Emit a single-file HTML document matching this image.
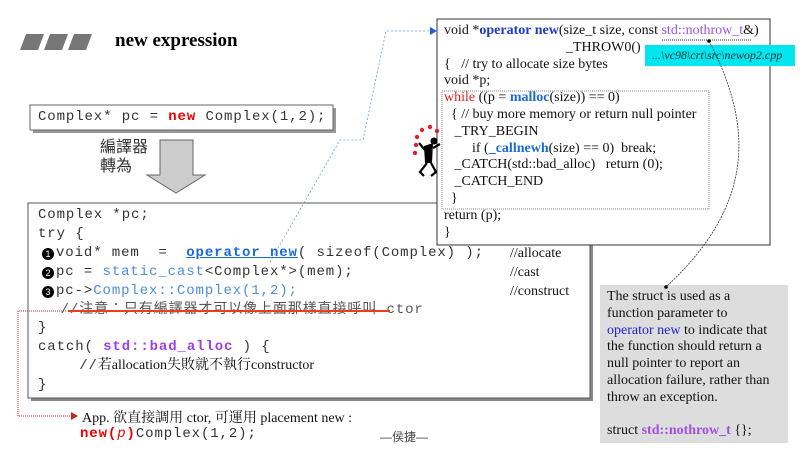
<!DOCTYPE html>
<html><head><meta charset="utf-8"><style>
body{margin:0;width:811px;height:470px;background:#fff;position:relative;overflow:hidden;font-family:"Liberation Serif","Noto Serif CJK SC",serif}
.a{position:absolute;white-space:nowrap}
.m{font-family:"Liberation Mono","Noto Sans CJK TC",monospace;font-size:14px;letter-spacing:0.9px;color:#333}
.s{font-family:"Liberation Serif","Noto Serif CJK SC",serif;font-size:14px;color:#111}
.k{font-family:"Liberation Sans","Noto Sans CJK TC",sans-serif}
.b{display:inline-block;width:12px;height:12px;border-radius:6px;background:#000;color:#fff;font-size:9px;text-align:center;line-height:12px;font-family:"Liberation Sans";letter-spacing:0;margin-right:2px;vertical-align:-1px}
</style></head><body>
<svg width="811" height="470" style="position:absolute;left:0;top:0">
<polygon points="26,34 44,34 38,50 20,50" fill="#777"/>
<polygon points="50,34 68,34 62,50 44,50" fill="#777"/>
<polygon points="74,34 92,34 86,50 68,50" fill="#777"/>
<rect x="33" y="108" width="303" height="25" fill="#999"/>
<rect x="30" y="105" width="303" height="25" fill="#fff" stroke="#666"/>
<polygon points="160,140 193,140 193,175 205,175 176,193 147,175 160,175" fill="#ccc" stroke="#666"/>
<rect x="31" y="206" width="562" height="195" fill="#888"/>
<rect x="28" y="203" width="562" height="195" fill="#fff" stroke="#555"/>
<rect x="437" y="19" width="333" height="226" fill="#fff" stroke="#333"/>
<rect x="442" y="91" width="267" height="118" fill="none" stroke="#888" stroke-dasharray="1,1"/>
<rect x="645" y="45" width="150" height="21" fill="#00e5ee"/>
<rect x="600" y="285" width="188" height="158" fill="#ddd"/>
<polyline points="270,262 340,140 363,140 386,31 432,31" fill="none" stroke="#6a9ad0" stroke-width="0.8" stroke-dasharray="2,2"/>
<polygon points="437,31 430,27 430,35" fill="#2060d0"/>
<line x1="662" y1="40" x2="752" y2="40" stroke="#333" stroke-dasharray="1,1"/>
<path d="M709,41 C750,120 760,200 666,287" fill="none" stroke="#333" stroke-width="0.8" stroke-dasharray="2,1"/>
<circle cx="709" cy="41" r="1.8" fill="#000"/><circle cx="666" cy="287" r="1.8" fill="#000"/>
<polyline points="66,311 18,311 18,416 72,416" fill="none" stroke="#d02020" stroke-dasharray="1,1"/>
<polygon points="78,416 71,412 71,420" fill="#d02020"/>
<g fill="#e02030"><circle cx="416" cy="145" r="2.2"/><circle cx="417" cy="137" r="2.2"/><circle cx="422" cy="130" r="2.2"/><circle cx="430" cy="127" r="2.2"/><circle cx="437" cy="131" r="2.2"/><circle cx="415" cy="153" r="2.2"/></g>
<path d="M424,146 L433,143 L432,163 L425,163 Z" fill="#000"/>
<circle cx="434" cy="141" r="3.5" fill="#000"/>
<path d="M425,150 L419,143 M433,148 L440,144 M427,163 L420,172 L424,176 M431,163 L436,172 L431,176" stroke="#000" stroke-width="2.2" fill="none"/>
</svg>
<div class="a" style="left:115px;top:30px;font-size:19px;font-weight:bold">new expression</div>
<div class="a m" style="left:38px;top:109px">Complex* pc = <b style="color:#e00">new</b> Complex(1,2);</div>
<div class="a k" style="left:100px;top:138px;font-size:16px;line-height:19px;color:#333">編譯器<br>轉為</div>
<div class="a m" style="left:38px;top:206px;line-height:18.9px">Complex *pc;<br>try {<br><br><br><br><br>}<br>catch( <b style="color:#a040e0">std::bad_alloc</b> ) {<br><br>}</div>
<div class="a m" style="left:42px;top:244px;line-height:18.9px">
<span class="b">1</span>void* mem &nbsp;= &nbsp;<b style="color:#1a6ad8;text-decoration:underline">operator new</b>( sizeof(Complex) );<br>
<span class="b">2</span>pc = <span style="color:#4a90d8">static_cast</span>&lt;Complex*&gt;(mem);<br>
<span class="b">3</span>pc-&gt;<span style="color:#4a90d8">Complex::Complex(1,2);</span><br>
&nbsp;&nbsp;<span style="color:#555">//注意：只有編譯器才可以像上面那樣直接呼叫 ctor</span><br><br><br>&nbsp;&nbsp;&nbsp;&nbsp;//<span class="s" style="font-size:14px;letter-spacing:0">若allocation失敗就不執行constructor</span></div>
<div class="a" style="left:68px;top:310px;width:322px;height:2px;background:#e8401a"></div>
<div class="a s" style="left:510px;top:245px;line-height:18.9px">//allocate<br>//cast<br>//construct</div>
<div class="a s" style="left:82px;top:407px">App. 欲直接調用 ctor, 可運用 placement new :</div>
<div class="a m" style="left:80px;top:426px"><b style="color:#e00">new(<i style="font-weight:normal">p</i>)</b>Complex(1,2);</div>
<div class="a k" style="left:380px;top:428px;font-size:12px;color:#444">—侯捷—</div>
<div class="a s" style="left:444px;top:23px;font-size:14px;line-height:16.8px">void *<b style="color:#1a3ad0">operator new</b>(size_t size, const <span style="color:#a050e0">std::nothrow_t</span>&amp;)<br><span style="padding-left:122px">_THROW0()</span><br>{ &nbsp;&nbsp;// try to allocate size bytes<br>void *p;<br><span style="color:#e02020">while</span> ((p = <b style="color:#1a6ad8">malloc</b>(size)) == 0)<br>&nbsp;&nbsp;{ // buy more memory or return null pointer<br>&nbsp;&nbsp;&nbsp;_TRY_BEGIN<br>&nbsp;&nbsp;&nbsp;&nbsp;&nbsp;&nbsp;&nbsp;&nbsp;if (<b style="color:#1a6ad8">_callnewh</b>(size) == 0) &nbsp;break;<br>&nbsp;&nbsp;&nbsp;_CATCH(std::bad_alloc) &nbsp;&nbsp;return (0);<br>&nbsp;&nbsp;&nbsp;_CATCH_END<br>&nbsp;&nbsp;}<br>return (p);<br>}</div>
<div class="a s" style="left:652px;top:48px;font-size:12px;font-style:italic;color:#333">...\vc98\crt\src\newop2.cpp</div>
<div class="a s" style="left:607px;top:289px;font-size:14px;line-height:16.8px">The struct is used as a<br>function parameter to<br><span style="color:#2020d0">operator new</span> to indicate that<br>the function should return a<br>null pointer to report an<br>allocation failure, rather than<br>throw an exception.<br><br>struct <b style="color:#a050e0">std::nothrow_t</b> {};</div>
</body></html>
